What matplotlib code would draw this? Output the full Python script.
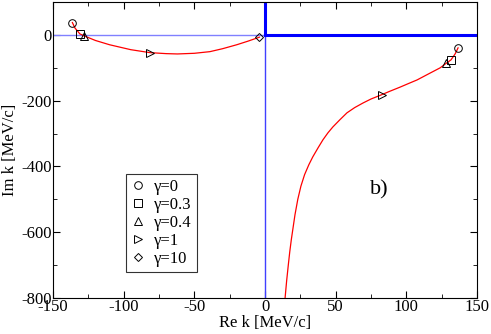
import numpy as np
import matplotlib.pyplot as plt
from matplotlib.ticker import MultipleLocator

plt.rcParams['font.family'] = ['Liberation Serif', 'DejaVu Serif']
plt.rcParams['axes.unicode_minus'] = False

# trajectory of the pole in the left half plane (Re k < 0)
left_re = [-136.3, -134.5, -131, -128, -120, -110, -95, -81.4, -70, -62, -50, -39, -30, -20, -12, -4]
left_im = [37.5, 21, 3, -3, -17, -30, -45, -54, -57, -58, -56, -51, -42, -30, -19, -7]

# trajectory of the pole in the right half plane (Re k > 0)
right_re = [14.2, 15.3, 16.5, 17.5, 18.6, 21.2, 23.2, 25.4, 28, 31, 33.8, 37.6, 41, 44.5, 48, 53,
            58, 63.5, 69.4, 75, 81.4, 88, 95.5, 101.5, 107.6, 116, 124, 128, 131.6, 134.5, 136.6]
right_im = [-800, -748, -699, -660, -623, -547, -500, -460, -425, -395, -371, -343, -319, -298, -280, -258,
            -237, -221, -207, -195, -184, -172, -159, -148, -137, -118, -100, -87, -76, -58, -39.5]

gammas = ["0", "0.3", "0.4", "1", "10"]
markers = ["o", "s", "^", ">", "D"]
mark_left_re = [-136.3, -131, -128, -81.4, -4]
mark_left_im = [37.5, 3, -3, -54, -7]
mark_right_re = [136.6, 131.6, 128, 82.5, None]
mark_right_im = [-39.5, -76, -87, -184, None]

fig = plt.figure(figsize=(4.91, 3.34), dpi=100)
ax = fig.add_axes([0.108, 0.108, 0.8635, 0.886])

# axes lines
ax.plot([-150, 0], [0, 0], color='#8080ff', lw=1)
ax.plot([0, 150], [0, 0], color='#0000ff', lw=2.2)
ax.plot([0, 0], [-800, 0], color='#4040ff', lw=1)
ax.plot([0, 0], [0, 100], color='#0000ff', lw=2.2)

ax.plot(left_re, left_im, color='red', lw=0.9)
ax.plot(right_re, right_im, color='red', lw=0.9)

for i, g in enumerate(gammas):
    ms = 5.5 if markers[i] != "D" else 4.5
    ax.plot(mark_left_re[i], mark_left_im[i], linestyle='none', marker=markers[i],
            mfc='none', mec='black', mew=0.7, ms=ms, label='\u03b3=' + g)
    if mark_right_re[i] is not None:
        ax.plot(mark_right_re[i], mark_right_im[i], linestyle='none', marker=markers[i],
                mfc='none', mec='black', mew=0.7, ms=ms)

ax.set_xlim(-150, 150)
ax.set_ylim(-800, 100)
ax.xaxis.set_major_locator(MultipleLocator(50))
ax.xaxis.set_minor_locator(MultipleLocator(25))
ax.yaxis.set_major_locator(MultipleLocator(200))
ax.yaxis.set_minor_locator(MultipleLocator(100))
ax.tick_params(which='both', direction='in', top=True, right=True, labelsize=12)
ax.tick_params(which='major', length=5)
ax.tick_params(which='minor', length=3)
ax.tick_params(axis='x', pad=1)
ax.tick_params(axis='y', pad=1)

ax.set_xlabel('Re k [MeV/c]', fontsize=12, labelpad=0)
ax.set_ylabel('Im k [MeV/c]', fontsize=12, labelpad=2)

ax.text(81, -471, 'b)', fontsize=16, ha='center', va='center')

leg = ax.legend(loc='lower left', bbox_to_anchor=(0.172, 0.088), fontsize=12,
                frameon=True, fancybox=False, borderaxespad=0, handlelength=0.9,
                handletextpad=0.5, labelspacing=0.12, borderpad=0.3)
leg.get_frame().set_edgecolor('black')
leg.get_frame().set_linewidth(0.8)

plt.savefig('out.png', dpi=100)
